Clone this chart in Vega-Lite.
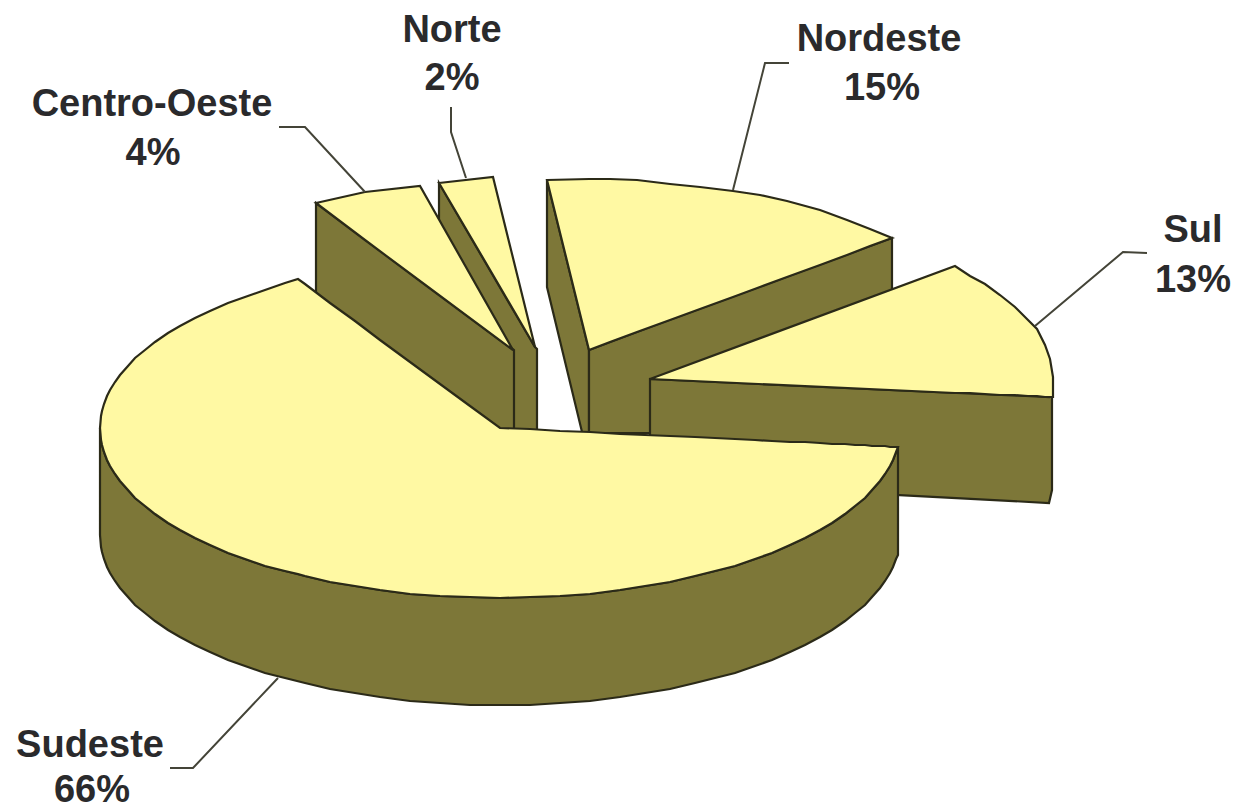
{
"$schema":"https://vega.github.io/schema/vega-lite/v6.json",
"width":1235,"height":806,
"autosize":{"type":"none"},
"padding":0,
"background":"#ffffff",
"view":{"stroke":null},
"datasets":{
"faces":[
{"part":"Norte lateral","face":"lateral","x":439,"y":183,"y2":225},
{"part":"Norte lateral","face":"lateral","x":515,"y":313,"y2":432},
{"part":"Norte lateral","face":"lateral","x":535,"y":347,"y2":432},
{"part":"Norte lateral","face":"lateral","x":537,"y":349,"y2":429},
{"part":"Norte topo","face":"topo","x":439,"y":183,"y2":183},
{"part":"Norte topo","face":"topo","x":493,"y":177,"y2":275},
{"part":"Norte topo","face":"topo","x":535,"y":347,"y2":347},
{"part":"Centro-Oeste lateral","face":"lateral","x":316,"y":203,"y2":295},
{"part":"Centro-Oeste lateral","face":"lateral","x":500,"y":340,"y2":432},
{"part":"Centro-Oeste lateral","face":"lateral","x":514,"y":350,"y2":432},
{"part":"Centro-Oeste topo","face":"topo","x":316,"y":203,"y2":203},
{"part":"Centro-Oeste topo","face":"topo","x":365,"y":192,"y2":240},
{"part":"Centro-Oeste topo","face":"topo","x":420,"y":186,"y2":281},
{"part":"Centro-Oeste topo","face":"topo","x":513,"y":350,"y2":350},
{"part":"Nordeste corte","face":"lateral","x":547,"y":180,"y2":287},
{"part":"Nordeste corte","face":"lateral","x":582,"y":322,"y2":432},
{"part":"Nordeste corte","face":"lateral","x":589,"y":350,"y2":432},
{"part":"Nordeste lateral","face":"lateral","x":589,"y":350,"y2":433},
{"part":"Nordeste lateral","face":"lateral","x":650,"y":327,"y2":433},
{"part":"Nordeste lateral","face":"lateral","x":892,"y":238,"y2":320},
{"part":"Nordeste topo","face":"topo","x":547,"y":180,"y2":180},
{"part":"Nordeste topo","face":"topo","x":589,"y":179,"y2":350},
{"part":"Nordeste topo","face":"topo","x":610,"y":179,"y2":342},
{"part":"Nordeste topo","face":"topo","x":637,"y":180,"y2":332},
{"part":"Nordeste topo","face":"topo","x":670,"y":184,"y2":320},
{"part":"Nordeste topo","face":"topo","x":700,"y":187,"y2":309},
{"part":"Nordeste topo","face":"topo","x":733,"y":191,"y2":297},
{"part":"Nordeste topo","face":"topo","x":760,"y":195,"y2":287},
{"part":"Nordeste topo","face":"topo","x":787,"y":201,"y2":277},
{"part":"Nordeste topo","face":"topo","x":820,"y":210,"y2":265},
{"part":"Nordeste topo","face":"topo","x":847,"y":220,"y2":255},
{"part":"Nordeste topo","face":"topo","x":870,"y":229,"y2":246},
{"part":"Nordeste topo","face":"topo","x":892,"y":238,"y2":238},
{"part":"Sul lateral","face":"lateral","x":650,"y":379,"y2":482},
{"part":"Sul lateral","face":"lateral","x":1049,"y":397,"y2":503},
{"part":"Sul lateral","face":"lateral","x":1052,"y":380,"y2":490},
{"part":"Sul topo","face":"topo","x":650,"y":379,"y2":379},
{"part":"Sul topo","face":"topo","x":955,"y":266,"y2":393},
{"part":"Sul topo","face":"topo","x":970,"y":276,"y2":393},
{"part":"Sul topo","face":"topo","x":985,"y":284,"y2":394},
{"part":"Sul topo","face":"topo","x":1000,"y":295,"y2":395},
{"part":"Sul topo","face":"topo","x":1015,"y":307,"y2":395},
{"part":"Sul topo","face":"topo","x":1028,"y":320,"y2":396},
{"part":"Sul topo","face":"topo","x":1037,"y":329,"y2":396},
{"part":"Sul topo","face":"topo","x":1045,"y":345,"y2":397},
{"part":"Sul topo","face":"topo","x":1050,"y":359,"y2":397},
{"part":"Sul topo","face":"topo","x":1053,"y":377,"y2":397},
{"part":"Sudeste lateral","face":"lateral","x":100,"y":428,"y2":535},
{"part":"Sudeste lateral","face":"lateral","x":101,"y":440,"y2":547},
{"part":"Sudeste lateral","face":"lateral","x":102,"y":445,"y2":552},
{"part":"Sudeste lateral","face":"lateral","x":104,"y":452,"y2":559},
{"part":"Sudeste lateral","face":"lateral","x":107,"y":460,"y2":567},
{"part":"Sudeste lateral","face":"lateral","x":110,"y":466,"y2":573},
{"part":"Sudeste lateral","face":"lateral","x":115,"y":474,"y2":581},
{"part":"Sudeste lateral","face":"lateral","x":120,"y":481,"y2":588},
{"part":"Sudeste lateral","face":"lateral","x":128,"y":490,"y2":597},
{"part":"Sudeste lateral","face":"lateral","x":135,"y":498,"y2":605},
{"part":"Sudeste lateral","face":"lateral","x":145,"y":506,"y2":613},
{"part":"Sudeste lateral","face":"lateral","x":155,"y":514,"y2":621},
{"part":"Sudeste lateral","face":"lateral","x":168,"y":523,"y2":630},
{"part":"Sudeste lateral","face":"lateral","x":180,"y":530,"y2":637},
{"part":"Sudeste lateral","face":"lateral","x":195,"y":538,"y2":645},
{"part":"Sudeste lateral","face":"lateral","x":210,"y":545,"y2":652},
{"part":"Sudeste lateral","face":"lateral","x":228,"y":553,"y2":660},
{"part":"Sudeste lateral","face":"lateral","x":245,"y":559,"y2":666},
{"part":"Sudeste lateral","face":"lateral","x":265,"y":566,"y2":673},
{"part":"Sudeste lateral","face":"lateral","x":285,"y":571,"y2":678},
{"part":"Sudeste lateral","face":"lateral","x":305,"y":576,"y2":683},
{"part":"Sudeste lateral","face":"lateral","x":330,"y":582,"y2":689},
{"part":"Sudeste lateral","face":"lateral","x":355,"y":586,"y2":693},
{"part":"Sudeste lateral","face":"lateral","x":380,"y":590,"y2":697},
{"part":"Sudeste lateral","face":"lateral","x":410,"y":594,"y2":701},
{"part":"Sudeste lateral","face":"lateral","x":440,"y":596,"y2":703},
{"part":"Sudeste lateral","face":"lateral","x":470,"y":597,"y2":705},
{"part":"Sudeste lateral","face":"lateral","x":500,"y":598,"y2":705},
{"part":"Sudeste lateral","face":"lateral","x":530,"y":597,"y2":705},
{"part":"Sudeste lateral","face":"lateral","x":560,"y":596,"y2":703},
{"part":"Sudeste lateral","face":"lateral","x":590,"y":594,"y2":701},
{"part":"Sudeste lateral","face":"lateral","x":620,"y":590,"y2":697},
{"part":"Sudeste lateral","face":"lateral","x":645,"y":586,"y2":693},
{"part":"Sudeste lateral","face":"lateral","x":670,"y":582,"y2":689},
{"part":"Sudeste lateral","face":"lateral","x":695,"y":576,"y2":683},
{"part":"Sudeste lateral","face":"lateral","x":715,"y":571,"y2":678},
{"part":"Sudeste lateral","face":"lateral","x":735,"y":566,"y2":673},
{"part":"Sudeste lateral","face":"lateral","x":755,"y":559,"y2":666},
{"part":"Sudeste lateral","face":"lateral","x":772,"y":553,"y2":660},
{"part":"Sudeste lateral","face":"lateral","x":790,"y":545,"y2":652},
{"part":"Sudeste lateral","face":"lateral","x":805,"y":538,"y2":645},
{"part":"Sudeste lateral","face":"lateral","x":820,"y":530,"y2":637},
{"part":"Sudeste lateral","face":"lateral","x":832,"y":523,"y2":630},
{"part":"Sudeste lateral","face":"lateral","x":845,"y":514,"y2":621},
{"part":"Sudeste lateral","face":"lateral","x":855,"y":506,"y2":613},
{"part":"Sudeste lateral","face":"lateral","x":865,"y":498,"y2":605},
{"part":"Sudeste lateral","face":"lateral","x":872,"y":490,"y2":597},
{"part":"Sudeste lateral","face":"lateral","x":880,"y":481,"y2":588},
{"part":"Sudeste lateral","face":"lateral","x":885,"y":474,"y2":581},
{"part":"Sudeste lateral","face":"lateral","x":890,"y":466,"y2":573},
{"part":"Sudeste lateral","face":"lateral","x":893,"y":460,"y2":567},
{"part":"Sudeste lateral","face":"lateral","x":896,"y":452,"y2":559},
{"part":"Sudeste lateral","face":"lateral","x":898,"y":447,"y2":555},
{"part":"Sudeste topo","face":"topo","x":100,"y":428,"y2":428},
{"part":"Sudeste topo","face":"topo","x":101,"y":416,"y2":440},
{"part":"Sudeste topo","face":"topo","x":102,"y":411,"y2":445},
{"part":"Sudeste topo","face":"topo","x":104,"y":404,"y2":452},
{"part":"Sudeste topo","face":"topo","x":107,"y":396,"y2":460},
{"part":"Sudeste topo","face":"topo","x":110,"y":390,"y2":466},
{"part":"Sudeste topo","face":"topo","x":115,"y":382,"y2":474},
{"part":"Sudeste topo","face":"topo","x":120,"y":375,"y2":481},
{"part":"Sudeste topo","face":"topo","x":128,"y":366,"y2":490},
{"part":"Sudeste topo","face":"topo","x":135,"y":358,"y2":498},
{"part":"Sudeste topo","face":"topo","x":145,"y":350,"y2":506},
{"part":"Sudeste topo","face":"topo","x":155,"y":342,"y2":514},
{"part":"Sudeste topo","face":"topo","x":168,"y":333,"y2":523},
{"part":"Sudeste topo","face":"topo","x":180,"y":326,"y2":530},
{"part":"Sudeste topo","face":"topo","x":195,"y":318,"y2":538},
{"part":"Sudeste topo","face":"topo","x":210,"y":311,"y2":545},
{"part":"Sudeste topo","face":"topo","x":228,"y":303,"y2":553},
{"part":"Sudeste topo","face":"topo","x":245,"y":297,"y2":559},
{"part":"Sudeste topo","face":"topo","x":265,"y":290,"y2":566},
{"part":"Sudeste topo","face":"topo","x":285,"y":283,"y2":571},
{"part":"Sudeste topo","face":"topo","x":298,"y":279,"y2":574},
{"part":"Sudeste topo","face":"topo","x":305,"y":284,"y2":576},
{"part":"Sudeste topo","face":"topo","x":330,"y":303,"y2":582},
{"part":"Sudeste topo","face":"topo","x":355,"y":321,"y2":586},
{"part":"Sudeste topo","face":"topo","x":380,"y":340,"y2":590},
{"part":"Sudeste topo","face":"topo","x":410,"y":362,"y2":594},
{"part":"Sudeste topo","face":"topo","x":440,"y":384,"y2":596},
{"part":"Sudeste topo","face":"topo","x":470,"y":406,"y2":597},
{"part":"Sudeste topo","face":"topo","x":500,"y":428,"y2":598},
{"part":"Sudeste topo","face":"topo","x":530,"y":429,"y2":597},
{"part":"Sudeste topo","face":"topo","x":560,"y":431,"y2":596},
{"part":"Sudeste topo","face":"topo","x":590,"y":432,"y2":594},
{"part":"Sudeste topo","face":"topo","x":620,"y":434,"y2":590},
{"part":"Sudeste topo","face":"topo","x":645,"y":435,"y2":586},
{"part":"Sudeste topo","face":"topo","x":670,"y":436,"y2":582},
{"part":"Sudeste topo","face":"topo","x":695,"y":437,"y2":576},
{"part":"Sudeste topo","face":"topo","x":715,"y":438,"y2":571},
{"part":"Sudeste topo","face":"topo","x":735,"y":439,"y2":566},
{"part":"Sudeste topo","face":"topo","x":755,"y":440,"y2":559},
{"part":"Sudeste topo","face":"topo","x":772,"y":441,"y2":553},
{"part":"Sudeste topo","face":"topo","x":790,"y":442,"y2":545},
{"part":"Sudeste topo","face":"topo","x":805,"y":442,"y2":538},
{"part":"Sudeste topo","face":"topo","x":820,"y":443,"y2":530},
{"part":"Sudeste topo","face":"topo","x":832,"y":444,"y2":523},
{"part":"Sudeste topo","face":"topo","x":845,"y":444,"y2":514},
{"part":"Sudeste topo","face":"topo","x":855,"y":445,"y2":506},
{"part":"Sudeste topo","face":"topo","x":865,"y":445,"y2":498},
{"part":"Sudeste topo","face":"topo","x":872,"y":446,"y2":490},
{"part":"Sudeste topo","face":"topo","x":880,"y":446,"y2":481},
{"part":"Sudeste topo","face":"topo","x":885,"y":446,"y2":474},
{"part":"Sudeste topo","face":"topo","x":890,"y":447,"y2":466},
{"part":"Sudeste topo","face":"topo","x":893,"y":447,"y2":460},
{"part":"Sudeste topo","face":"topo","x":898,"y":447,"y2":447}
],
"leaders":[
{"region":"Centro-Oeste","step":1,"x":279,"y":127},
{"region":"Centro-Oeste","step":2,"x":305,"y":127},
{"region":"Centro-Oeste","step":3,"x":365,"y":192},
{"region":"Norte","step":1,"x":451,"y":107},
{"region":"Norte","step":2,"x":451,"y":132},
{"region":"Norte","step":3,"x":466,"y":178},
{"region":"Nordeste","step":1,"x":789,"y":63},
{"region":"Nordeste","step":2,"x":765,"y":63},
{"region":"Nordeste","step":3,"x":733,"y":190},
{"region":"Sul","step":1,"x":1147,"y":253},
{"region":"Sul","step":2,"x":1123,"y":252},
{"region":"Sul","step":3,"x":1035,"y":326},
{"region":"Sudeste","step":1,"x":170,"y":768},
{"region":"Sudeste","step":2,"x":193,"y":768},
{"region":"Sudeste","step":3,"x":278,"y":678}
],
"labels":[
{"label":"Norte","x":452,"y":42},
{"label":"2%","x":452,"y":90},
{"label":"Centro-Oeste","x":152,"y":116},
{"label":"4%","x":153,"y":165},
{"label":"Nordeste","x":879,"y":51},
{"label":"15%","x":882,"y":100},
{"label":"Sul","x":1193,"y":242},
{"label":"13%","x":1193,"y":292},
{"label":"Sudeste","x":90,"y":757},
{"label":"66%","x":92,"y":802}
]
},
"layer":[
{
"data":{"name":"faces"},
"mark":{"type":"area","stroke":"#2b2a18","strokeWidth":2.2,"strokeJoin":"miter","opacity":1},
"encoding":{
"x":{"field":"x","type":"quantitative","scale":{"domain":[0,1235],"nice":false,"zero":false},"axis":null},
"y":{"field":"y","type":"quantitative","scale":{"domain":[806,0],"nice":false,"zero":false},"axis":null},
"y2":{"field":"y2"},
"detail":{"field":"part"},
"fill":{"field":"face","type":"nominal","legend":null,"scale":{"domain":["topo","lateral"],"range":["#FFF9A3","#7D7738"]}}
}
},
{
"data":{"name":"leaders"},
"mark":{"type":"line","stroke":"#444438","strokeWidth":2,"interpolate":"linear"},
"encoding":{
"x":{"field":"x","type":"quantitative","scale":{"domain":[0,1235],"nice":false,"zero":false},"axis":null},
"y":{"field":"y","type":"quantitative","scale":{"domain":[806,0],"nice":false,"zero":false},"axis":null},
"detail":{"field":"region"},
"order":{"field":"step","type":"quantitative"}
}
},
{
"data":{"name":"labels"},
"mark":{"type":"text","font":"Liberation Sans","fontWeight":"bold","fontSize":38,"align":"center","baseline":"alphabetic","fill":"#2a2a2c"},
"encoding":{
"x":{"field":"x","type":"quantitative","scale":{"domain":[0,1235],"nice":false,"zero":false},"axis":null},
"y":{"field":"y","type":"quantitative","scale":{"domain":[806,0],"nice":false,"zero":false},"axis":null},
"text":{"field":"label","type":"nominal"}
}
}
]
}
